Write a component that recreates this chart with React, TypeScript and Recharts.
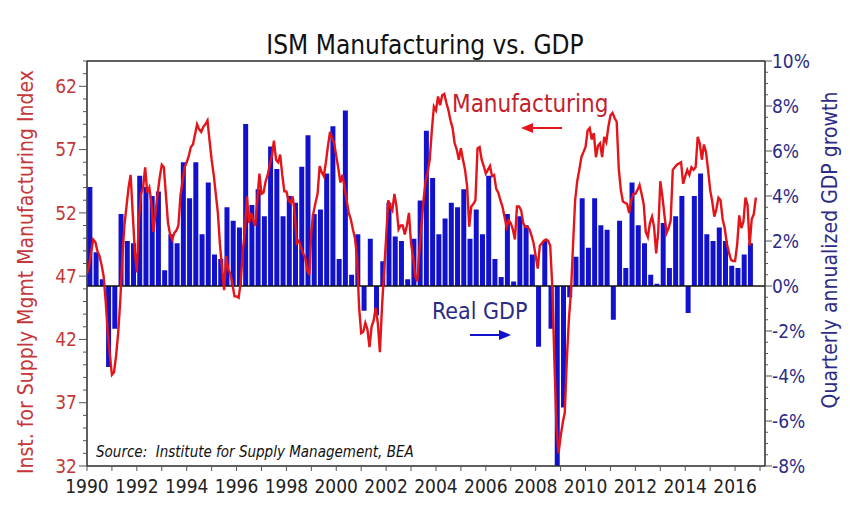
import React from "react";
import { ComposedChart, LineChart, Bar, Line, XAxis, YAxis, ReferenceLine } from "recharts";

// ISM manufacturing index, monthly, Jan 1990 - Nov 2016
const ismMonthly = [
  47.2, 47.8, 48.9, 49.9, 49.7, 49.0, 48.6, 47.9, 47.0, 45.0, 42.5, 40.8,
  39.2, 39.4, 40.7, 42.5, 45.0, 48.5, 51.0, 52.5, 54.0, 55.0, 52.0, 49.0,
  47.3, 51.5, 53.5, 54.0, 55.6, 53.6, 54.0, 52.8, 50.5, 52.0, 53.5, 54.8,
  55.8, 55.6, 53.4, 51.2, 50.3, 49.9, 50.4, 50.6, 51.0, 53.4, 54.5, 55.6,
  56.0, 56.5, 57.2, 57.4, 58.2, 59.0, 58.6, 58.4, 58.8, 59.0, 59.3, 57.7,
  56.2, 55.0, 53.5, 52.0, 49.5, 47.7, 45.9, 48.6, 47.5, 47.2, 46.4, 45.4,
  45.4, 45.3, 46.5, 49.0, 50.5, 53.3, 51.2, 52.0, 51.4, 51.0, 53.0, 55.1,
  53.5, 53.6, 54.5, 55.0, 55.8, 56.5, 57.7, 56.2, 56.0, 56.6, 55.0, 53.7,
  53.7, 53.0, 52.8, 53.3, 52.0, 49.6, 49.8, 49.3, 48.8, 48.5, 47.5, 47.1,
  50.5, 52.0, 52.8, 53.5, 55.7, 55.2, 54.9, 56.0, 57.3, 58.4, 57.9, 57.5,
  56.5, 55.5, 54.4, 55.0, 54.0, 53.0, 52.0, 51.5, 50.7, 50.0, 48.5, 44.5,
  42.5, 42.6, 43.3, 42.8, 41.4, 43.0, 43.5, 44.5, 43.3, 41.0, 44.5, 47.3,
  50.0, 53.0, 52.5, 52.2, 53.5, 52.5, 50.7, 51.0, 51.0, 50.3, 51.0, 52.0,
  49.6, 48.5, 47.0, 46.6, 49.0, 51.0, 53.0, 54.5, 55.2, 56.2, 58.5, 60.4,
  60.1, 61.2, 60.5, 61.3, 61.4, 60.7, 60.1, 59.3, 58.7, 57.5, 57.0, 56.2,
  57.1, 56.2, 55.4, 54.1, 50.9, 52.5, 52.7, 53.0, 57.1, 57.2, 56.2, 55.7,
  55.1, 55.4, 55.7, 54.9, 55.0, 53.9, 53.6, 53.0, 52.5, 51.7, 50.9, 51.4,
  51.2, 50.7, 49.9, 52.5, 52.5, 52.2, 51.2, 50.9, 50.9, 50.7, 50.2, 49.6,
  48.6, 47.6, 49.4, 49.6, 49.8, 49.9, 49.8, 49.4, 46.2, 40.4, 35.2, 33.0,
  34.3, 35.4, 36.2, 40.4, 43.6, 45.8, 49.5, 53.0, 54.5, 55.4, 56.4, 56.8,
  57.2, 58.5, 58.7, 57.8, 58.3, 56.4, 57.3, 57.5, 56.4, 58.0, 57.6, 58.8,
  59.7, 59.9, 59.5, 59.2, 55.5, 53.8, 52.9, 52.8, 52.7, 52.0, 53.0, 53.5,
  53.5, 53.8, 54.2, 53.5, 52.7, 50.5, 50.1, 51.2, 51.7, 50.9, 48.8, 50.5,
  54.5, 53.3, 51.8, 50.4, 50.8, 51.4, 55.4, 55.6, 55.8, 55.9, 56.0, 54.3,
  54.9, 55.4, 55.0, 55.6, 55.4, 55.6, 58.0, 57.5, 56.2, 57.4, 56.8, 55.4,
  53.8, 52.9, 51.7, 52.3, 53.2, 53.0, 51.5, 50.8, 49.6, 48.9, 48.3, 48.2,
  48.2, 49.5, 51.8, 50.8, 51.3, 53.2, 52.6, 49.4, 51.5, 51.9, 53.2,
];

// real GDP, quarterly annualized % change, 1990Q1 - 2016Q3
const gdpQuarterly = [
  4.4, 1.5, 0.3, -3.6,
  -1.9, 3.2, 2.0, 1.9,
  4.9, 4.4, 4.0, 4.2,
  0.7, 2.3, 1.9, 5.5,
  3.9, 5.5, 2.3, 4.6,
  1.4, 1.2, 3.5, 2.9,
  2.6, 7.2, 3.6, 4.3,
  3.1, 6.2, 5.2, 3.1,
  4.0, 3.7, 5.3, 6.7,
  3.2, 3.4, 5.0, 7.1,
  1.2, 7.8, 0.5, 2.3,
  -1.1, 2.1, -1.3, 1.1,
  3.7, 2.2, 2.0, 0.3,
  2.1, 3.8, 6.9, 4.8,
  2.3, 3.0, 3.7, 3.5,
  4.3, 2.1, 3.4, 2.3,
  4.9, 1.2, 0.4, 3.2,
  0.2, 3.1, 2.7, 1.4,
  -2.7, 2.0, -1.9, -8.2,
  -5.4, -0.5, 1.3, 3.9,
  1.7, 3.9, 2.7, 2.5,
  -1.5, 2.9, 0.8, 4.6,
  2.7, 1.9, 0.5, 0.1,
  2.8, 0.8, 3.1, 4.0,
  -1.2, 4.0, 5.0, 2.3,
  2.0, 2.6, 2.0, 0.9,
  0.8, 1.4, 1.9,
];

const START_YEAR = 1990;
const yearTicks = [
  1990, 1991, 1992, 1993, 1994, 1995, 1996, 1997, 1998, 1999, 2000, 2001, 2002, 2003,
  2004, 2005, 2006, 2007, 2008, 2009, 2010, 2011, 2012, 2013, 2014, 2015, 2016, 2017,
];
const leftLabels = [32, 37, 42, 47, 52, 57, 62];
const rightLabels = [-8, -6, -4, -2, 0, 2, 4, 6, 8, 10];

const X_DOMAIN = [1990, 2017.2];
const LEFT_DOMAIN = [32, 64];
const RIGHT_DOMAIN = [-8, 10];

// minor ticks: every index point on the left, every half percent on the right
const leftTicks: number[] = [];
for (let v = 32; v <= 64; v++) leftTicks.push(v);
const rightTicks: number[] = [];
for (let v = -16; v <= 20; v++) rightTicks.push(v / 2);

const ismRows = ismMonthly.map((v, i) => ({ t: START_YEAR + i / 12, ism: v }));
const gdpRows = gdpQuarterly.map((v, i) => ({ t: START_YEAR + i / 4 + 0.1, gdp: v }));

const W = 850;
const H = 505;
const FONT = "'Liberation Sans Narrow', 'DejaVu Sans Condensed', 'Arial Narrow', sans-serif";
const RED_TEXT = "#c4373a";
const RED_LINE = "#e3151b";
const NAVY = "#2c2c86";
const BLUE = "#1212cc";
const AXIS = "#2a2a2a";

const LeftTick = (props: any) => {
  const { x, y, payload } = props;
  const major = leftLabels.includes(payload.value);
  return (
    <g>
      <line x1={x - (major ? 8 : 4)} x2={x} y1={y} y2={y} stroke="#555" strokeWidth={1} />
      {major && (
        <text x={x - 10} y={y} dy="0.35em" textAnchor="end" fill={RED_TEXT} fontSize={19} fontFamily={FONT}>
          {payload.value}
        </text>
      )}
    </g>
  );
};

const RightTick = (props: any) => {
  const { x, y, payload } = props;
  const major = rightLabels.includes(payload.value);
  return (
    <g>
      <line x1={x} x2={x + (major ? 7 : 3)} y1={y} y2={y} stroke="#555" strokeWidth={1} />
      {major && (
        <text x={x + 7} y={y} dy="0.35em" textAnchor="start" fill={NAVY} fontSize={19} fontFamily={FONT}>
          {`${payload.value}%`}
        </text>
      )}
    </g>
  );
};

const YearTick = (props: any) => {
  const { x, y, payload } = props;
  const label = payload.value % 2 === 0 && payload.value < 2017;
  return (
    <g>
      <line x1={x} x2={x} y1={y} y2={y + 5} stroke="#555" strokeWidth={1} />
      {label && (
        <text x={x} y={y + 27} textAnchor="middle" fill="#222" fontSize={19} fontFamily={FONT}>
          {payload.value}
        </text>
      )}
    </g>
  );
};

const overlay: React.CSSProperties = { position: "absolute", whiteSpace: "nowrap", fontFamily: FONT, lineHeight: 1 };

export default function App() {
  return (
    <div style={{ position: "absolute", left: 0, top: 0, width: W, height: H, background: "#fff", overflow: "hidden" }}>
      <div style={{ position: "absolute", left: 0, top: 0 }}>
        <ComposedChart width={W} height={H} data={gdpRows} margin={{ top: 61, right: 0, bottom: 0, left: 0 }}>
          <XAxis
            dataKey="t"
            type="number"
            domain={X_DOMAIN}
            allowDataOverflow
            ticks={yearTicks}
            interval={0}
            height={39}
            tickSize={0}
            tickMargin={0}
            tickLine={false}
            tick={<YearTick />}
            axisLine={{ stroke: AXIS, strokeWidth: 1.5 }}
          />
          <YAxis
            yAxisId="left"
            orientation="left"
            type="number"
            domain={LEFT_DOMAIN}
            allowDataOverflow
            ticks={leftTicks}
            interval={0}
            width={87}
            tickSize={0}
            tickMargin={0}
            tickLine={false}
            tick={<LeftTick />}
            axisLine={{ stroke: AXIS, strokeWidth: 1.5 }}
          />
          <YAxis
            yAxisId="right"
            orientation="right"
            type="number"
            domain={RIGHT_DOMAIN}
            allowDataOverflow
            ticks={rightTicks}
            interval={0}
            width={85}
            tickSize={0}
            tickMargin={0}
            tickLine={false}
            tick={<RightTick />}
            axisLine={{ stroke: AXIS, strokeWidth: 1.5 }}
          />
          <ReferenceLine yAxisId="right" y={10} stroke={AXIS} strokeWidth={1.5} />
          <Bar yAxisId="right" dataKey="gdp" fill={BLUE} barSize={5} isAnimationActive={false} />
          <ReferenceLine yAxisId="right" y={0} stroke="#111" strokeWidth={1.5} />
        </ComposedChart>
      </div>
      <div style={{ position: "absolute", left: 0, top: 0 }}>
        <LineChart width={W} height={H} data={ismRows} margin={{ top: 61, right: 85, bottom: 39, left: 87 }}>
          <XAxis dataKey="t" type="number" domain={X_DOMAIN} allowDataOverflow hide />
          <YAxis type="number" domain={LEFT_DOMAIN} allowDataOverflow hide />
          <Line type="linear" dataKey="ism" stroke={RED_LINE} strokeWidth={2.4} dot={false} isAnimationActive={false} />
        </LineChart>
      </div>

      <div style={{ ...overlay, left: 425, top: 45, transform: "translate(-50%, -50%)", fontSize: 26, color: "#111" }}>
        ISM Manufacturing vs. GDP
      </div>
      <div style={{ ...overlay, left: 26, top: 272, transform: "translate(-50%, -50%) rotate(-90deg)", fontSize: 21, color: RED_TEXT }}>
        Inst. for Supply Mgmt Manufacturing Index
      </div>
      <div style={{ ...overlay, left: 830, top: 250, transform: "translate(-50%, -50%) rotate(-90deg)", fontSize: 21, color: NAVY }}>
        Quarterly annualized GDP growth
      </div>
      <div style={{ ...overlay, left: 452, top: 104, transform: "translateY(-50%)", fontSize: 24, color: "#c5202a" }}>
        Manufacturing
      </div>
      <div style={{ ...overlay, left: 432, top: 311, transform: "translateY(-50%)", fontSize: 23, color: NAVY }}>
        Real GDP
      </div>
      <div style={{ ...overlay, left: 96, top: 452, transform: "translateY(-50%)", fontSize: 15, fontStyle: "italic", color: "#111" }}>
        Source:&nbsp; Institute for Supply Management, BEA
      </div>
      <svg width={W} height={H} style={{ position: "absolute", left: 0, top: 0, pointerEvents: "none" }}>
        <line x1={562} y1={128} x2={532} y2={128} stroke={RED_LINE} strokeWidth={2} />
        <polygon points="521,128 533,123 533,133" fill={RED_LINE} />
        <line x1={470} y1={335} x2={500} y2={335} stroke={BLUE} strokeWidth={2} />
        <polygon points="511,335 499,330 499,340" fill={BLUE} />
      </svg>
    </div>
  );
}
